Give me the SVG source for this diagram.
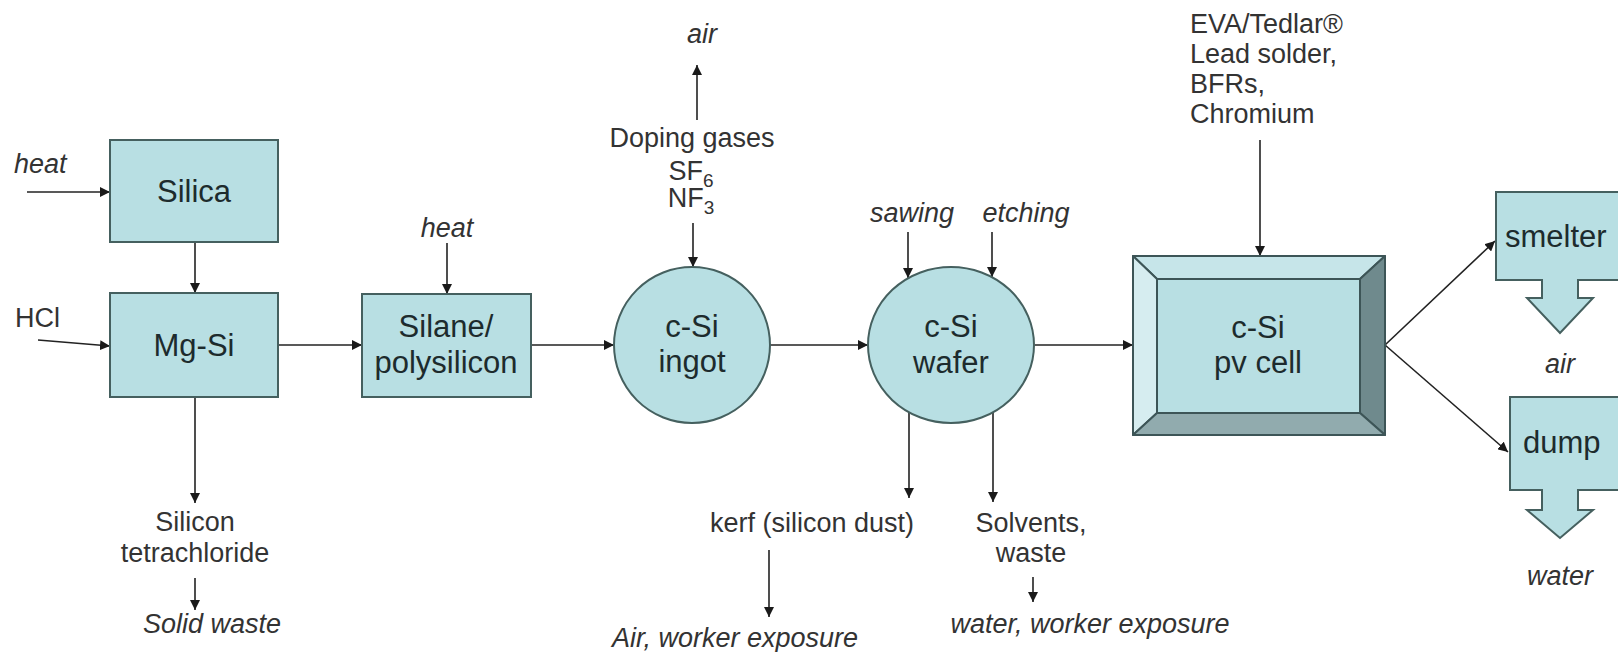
<svg xmlns="http://www.w3.org/2000/svg" width="1618" height="652" viewBox="0 0 1618 652">
<defs>
<marker id="ah" viewBox="0 0 10 10" refX="10" refY="5" markerWidth="10" markerHeight="10" markerUnits="userSpaceOnUse" orient="auto">
<path d="M0,0 L10,5 L0,10 z" fill="#1a1a1a"/>
</marker>
<style>
.box{fill:#b8dfe3;stroke:#45605f;stroke-width:2}
.node{font-family:"Liberation Sans",Arial,sans-serif;font-size:31px;fill:#1d2b2d;text-anchor:middle}
.lbl{font-family:"Liberation Sans",Arial,sans-serif;font-size:27px;fill:#333;text-anchor:middle}
.it{font-style:italic}
.st{text-anchor:start}
.con line{stroke:#222;stroke-width:1.6;marker-end:url(#ah)}
</style>
</defs>
<rect width="1618" height="652" fill="#fff"/>

<g id="connectors" class="con">
<line x1="27" y1="192" x2="110" y2="192"/>
<line x1="38" y1="340" x2="110" y2="346"/>
<line x1="195" y1="242" x2="195" y2="293"/>
<line x1="195" y1="397" x2="195" y2="503"/>
<line x1="195" y1="578" x2="195" y2="610"/>
<line x1="278" y1="345" x2="362" y2="345"/>
<line x1="447" y1="243" x2="447" y2="294"/>
<line x1="531" y1="345" x2="614" y2="345"/>
<line x1="693" y1="223" x2="693" y2="267"/>
<line x1="697" y1="120" x2="697" y2="65"/>
<line x1="770" y1="345" x2="868" y2="345"/>
<line x1="908" y1="232" x2="908" y2="278"/>
<line x1="992" y1="232" x2="992" y2="277"/>
<line x1="909" y1="412" x2="909" y2="498"/>
<line x1="993" y1="410" x2="993" y2="502"/>
<line x1="769" y1="550" x2="769" y2="617"/>
<line x1="1033" y1="577" x2="1033" y2="602"/>
<line x1="1035" y1="345" x2="1133" y2="345"/>
<line x1="1260" y1="140" x2="1260" y2="256"/>
<line x1="1385" y1="345" x2="1495" y2="241"/>
<line x1="1385" y1="345" x2="1508" y2="452"/>
</g>

<g id="labels">
<text class="lbl it st" x="14" y="173">heat</text>
<text class="lbl st" x="15" y="327">HCl</text>
<text class="lbl" x="195" y="531">Silicon</text>
<text class="lbl" x="195" y="562">tetrachloride</text>
<text class="lbl it" x="212" y="633">Solid waste</text>
<text class="lbl it" x="447" y="237">heat</text>
<text class="lbl it" x="702" y="43">air</text>
<text class="lbl" x="692" y="147">Doping gases</text>
<text class="lbl" x="691" y="180">SF<tspan font-size="19" dy="7">6</tspan></text>
<text class="lbl" x="691" y="207">NF<tspan font-size="19" dy="7">3</tspan></text>
<text class="lbl it" x="912" y="222">sawing</text>
<text class="lbl it" x="1026" y="222">etching</text>
<text class="lbl" x="812" y="532">kerf (silicon dust)</text>
<text class="lbl it st" x="612" y="647">Air, worker exposure</text>
<text class="lbl" x="1031" y="532">Solvents,</text>
<text class="lbl" x="1031" y="562">waste</text>
<text class="lbl it" x="1090" y="633">water, worker exposure</text>
<text class="lbl st" x="1190" y="33">EVA/Tedlar®</text>
<text class="lbl st" x="1190" y="63">Lead solder,</text>
<text class="lbl st" x="1190" y="93">BFRs,</text>
<text class="lbl st" x="1190" y="123">Chromium</text>
<text class="lbl it" x="1560" y="373">air</text>
<text class="lbl it" x="1560" y="585">water</text>
</g>

<g id="silica">
<rect class="box" x="110" y="140" width="168" height="102"/>
<text class="node" x="194" y="202">Silica</text>
</g>
<g id="mgsi">
<rect class="box" x="110" y="293" width="168" height="104"/>
<text class="node" x="194" y="356">Mg-Si</text>
</g>
<g id="silane">
<rect class="box" x="362" y="294" width="169" height="103"/>
<text class="node" x="446" y="337">Silane/</text>
<text class="node" x="446" y="373">polysilicon</text>
</g>
<g id="ingot">
<circle class="box" cx="692" cy="345" r="78"/>
<text class="node" x="692" y="337">c-Si</text>
<text class="node" x="692" y="372">ingot</text>
</g>
<g id="wafer">
<ellipse class="box" cx="951" cy="345" rx="83" ry="78"/>
<text class="node" x="951" y="337">c-Si</text>
<text class="node" x="951" y="373">wafer</text>
</g>
<g id="pvcell" stroke="#3d5557" stroke-width="2" stroke-linejoin="round">
<polygon points="1133,256 1385,256 1360,279 1157,279" fill="#c6e5e9"/>
<polygon points="1133,256 1157,279 1157,413 1133,435" fill="#d6edf0"/>
<polygon points="1385,256 1385,435 1360,413 1360,279" fill="#6f8a8d"/>
<polygon points="1133,435 1157,413 1360,413 1385,435" fill="#91abae"/>
<rect x="1157" y="279" width="203" height="134" fill="#b8dfe3"/>
<text class="node" x="1258" y="338" stroke="none">c-Si</text>
<text class="node" x="1258" y="373" stroke="none">pv cell</text>
</g>
<g id="smelter">
<path class="box" d="M1496,192 H1625 V280 H1578 V298 H1593 L1560,333 L1527,298 H1542 V280 H1496 Z"/>
<text class="node st" x="1505" y="247">smelter</text>
</g>
<g id="dump">
<path class="box" d="M1510,397 H1625 V490 H1578 V510 H1593 L1560,538 L1527,510 H1542 V490 H1510 Z"/>
<text class="node st" x="1523" y="453">dump</text>
</g>
</svg>
